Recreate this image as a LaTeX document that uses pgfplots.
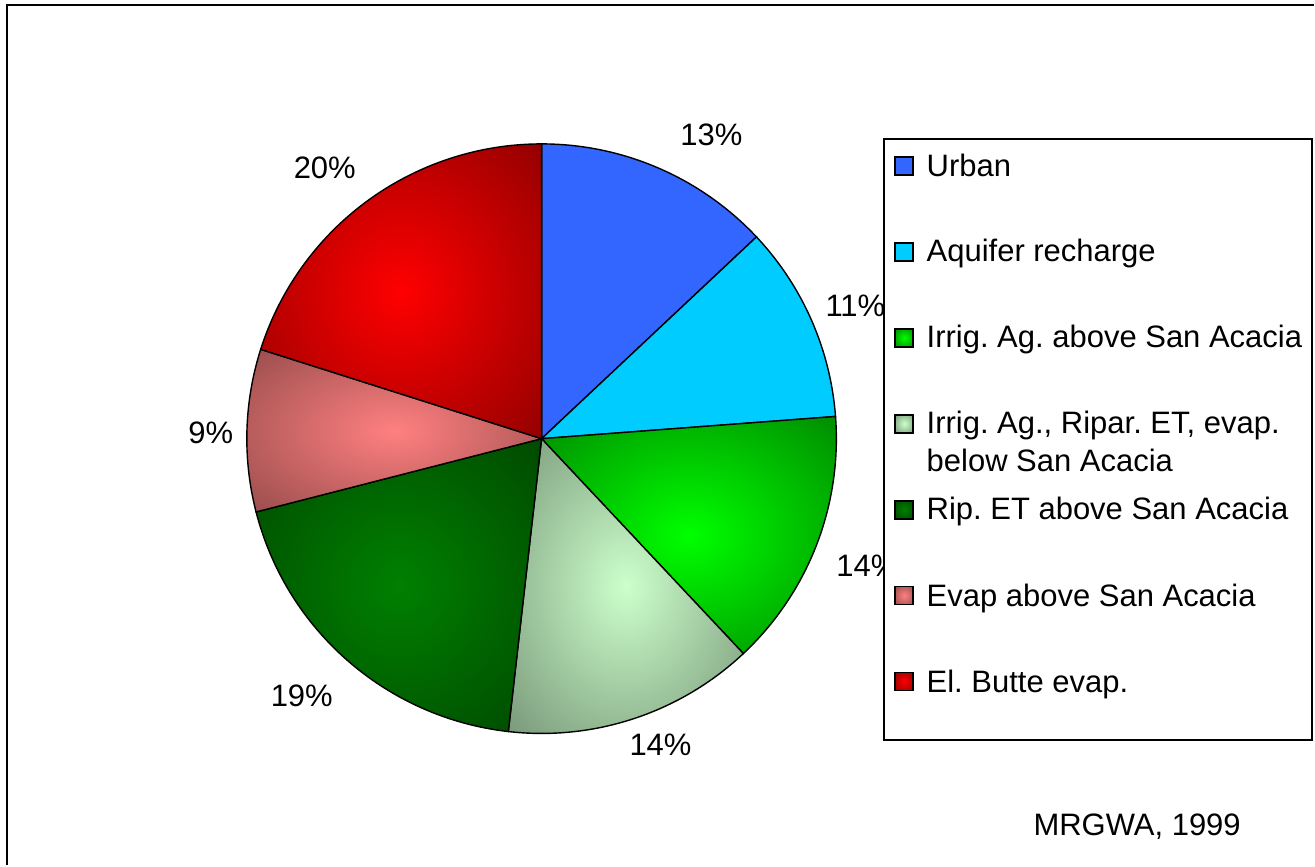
\documentclass[border=0pt]{standalone}
\usepackage{pgfplots}
\pgfplotsset{compat=1.18}
\usepackage{fontspec}
\setmainfont{Liberation Sans}
\frenchspacing

\definecolor{urban}{HTML}{3366FF}
\definecolor{aquifer}{HTML}{00CCFF}
\definecolor{irrAin}{HTML}{00FF00}
\definecolor{irrAout}{HTML}{007000}
\definecolor{irrBin}{HTML}{CCFFCC}
\definecolor{irrBout}{HTML}{668066}
\definecolor{ripin}{HTML}{008000}
\definecolor{ripout}{HTML}{003C00}
\definecolor{evapin}{HTML}{FF8080}
\definecolor{evapout}{HTML}{804040}
\definecolor{buttein}{HTML}{FF0000}
\definecolor{butteout}{HTML}{7A0000}

% Excel-like "from center" gradients
\pgfdeclareradialshading{shIrrA}{\pgfpoint{0bp}{0bp}}{color(0bp)=(irrAin); color(44bp)=(irrAout); color(80bp)=(irrAout)}
\pgfdeclareradialshading{shIrrB}{\pgfpoint{0bp}{0bp}}{color(0bp)=(irrBin); color(44bp)=(irrBout); color(80bp)=(irrBout)}
\pgfdeclareradialshading{shRip}{\pgfpoint{0bp}{0bp}}{color(0bp)=(ripin); color(44bp)=(ripout); color(80bp)=(ripout)}
\pgfdeclareradialshading{shEvap}{\pgfpoint{0bp}{0bp}}{color(0bp)=(evapin); color(44bp)=(evapout); color(80bp)=(evapout)}
\pgfdeclareradialshading{shButte}{\pgfpoint{0bp}{0bp}}{color(0bp)=(buttein); color(44bp)=(butteout); color(80bp)=(butteout)}

\newcommand\lab{\fontsize{15.5}{18.6}\selectfont}

% slice: start percent, percent, style  (clockwise from 12 o'clock)
\newcommand\pieslice[3]{%
  \pgfmathsetmacro\angA{90-3.6*#1}%
  \pgfmathsetmacro\angB{90-3.6*(#1+#2)}%
  \edef\doslice{\noexpand\addplot[\unexpanded{#3}, draw=black, line width=0.7pt, domain=\angB:\angA, samples=90]}%
  \doslice ({542+295*cos(x)},{439-295*sin(x)}) -- (axis cs:542,439) -- cycle;%
}

\begin{document}
\begin{tikzpicture}
\begin{axis}[
    width=657.5pt, height=433pt, scale only axis,
    xmin=0, xmax=1315, ymin=0, ymax=866, y dir=reverse,
    hide axis, clip=false,
]
\path (axis cs:0,0) rectangle (axis cs:1315,866);
\draw[line width=1pt] (axis cs:7,866) -- (axis cs:7,5) -- (axis cs:1315,5);

\pieslice{0.0}{13.0}{fill=urban}
\pieslice{13.0}{10.8}{fill=aquifer}
\pieslice{23.8}{14.2}{shading=shIrrA, shade}
\pieslice{38.0}{13.8}{shading=shIrrB, shade}
\pieslice{51.8}{19.2}{shading=shRip, shade}
\pieslice{71.0}{8.9}{shading=shEvap, shade}
\pieslice{79.9}{20.1}{shading=shButte, shade}

\begin{scope}[every node/.style={font=\lab, inner sep=0pt, anchor=base}]
\node at (axis cs:712,146) {13\%};
\node at (axis cs:856,317) {11\%};
\node at (axis cs:868,577) {14\%};
\node at (axis cs:661,756) {14\%};
\node at (axis cs:302,707) {19\%};
\node at (axis cs:211,444) {9\%};
\node at (axis cs:325,179) {20\%};
\end{scope}

% legend
\draw[line width=1pt, fill=white] (axis cs:885,139) rectangle (axis cs:1313,741);
\begin{scope}[every node/.style={font=\lab, inner sep=0pt, anchor=base west}]
\draw[line width=0.9pt, fill=urban] (axis cs:896,157) rectangle (axis cs:914,175);
\node at (axis cs:927,177) {Urban};
\draw[line width=0.9pt, fill=aquifer] (axis cs:896,243) rectangle (axis cs:914,261);
\node at (axis cs:927,262) {Aquifer recharge};
\draw[line width=0.9pt, shading=shIrrA, shade] (axis cs:896,329) rectangle (axis cs:914,347);
\node at (axis cs:927,348) {Irrig. Ag. above San Acacia};
\draw[line width=0.9pt, shading=shIrrB, shade] (axis cs:896,415) rectangle (axis cs:914,433);
\node at (axis cs:927,434) {Irrig. Ag., Ripar. ET, evap.};
\node at (axis cs:927,472) {below San Acacia};
\draw[line width=0.9pt, shading=shRip, shade] (axis cs:896,501) rectangle (axis cs:914,519);
\node at (axis cs:927,520) {Rip. ET above San Acacia};
\draw[line width=0.9pt, shading=shEvap, shade] (axis cs:896,587) rectangle (axis cs:914,605);
\node at (axis cs:927,607) {Evap above San Acacia};
\draw[line width=0.9pt, shading=shButte, shade] (axis cs:896,673) rectangle (axis cs:914,691);
\node at (axis cs:927,693) {El. Butte evap.};
\end{scope}

\node[font=\lab, inner sep=0pt, anchor=base] at (axis cs:1138,836) {MRGWA, 1999};
\end{axis}
\end{tikzpicture}
\end{document}
